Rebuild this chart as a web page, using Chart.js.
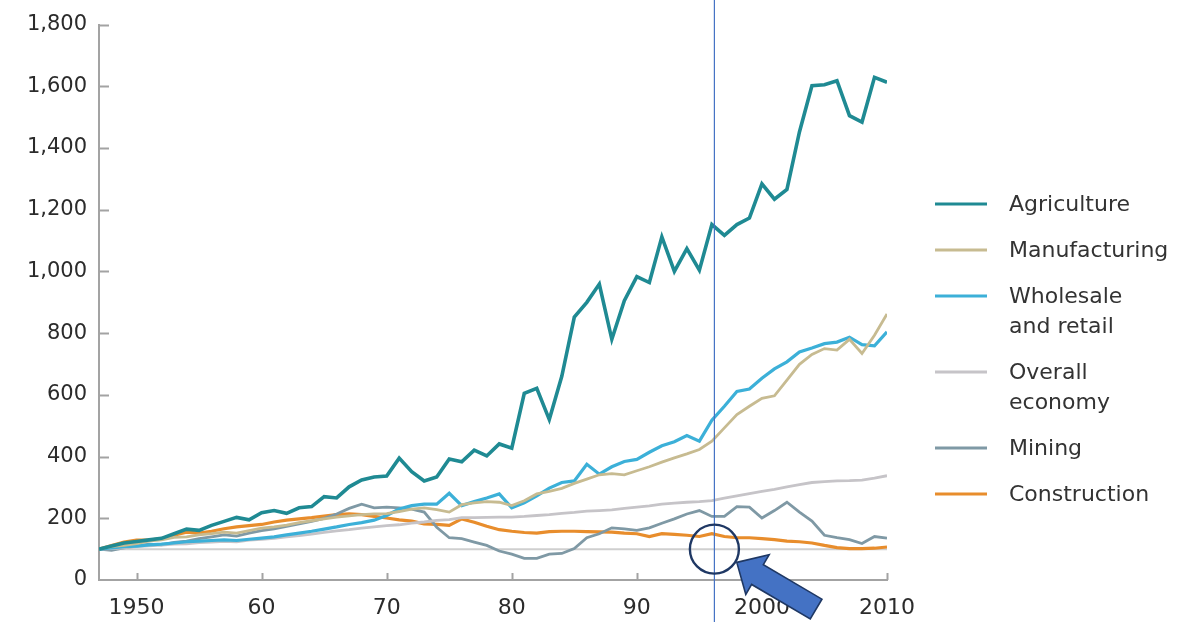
<!DOCTYPE html>
<html>
<head>
<meta charset="utf-8">
<script src="https://cdn.jsdelivr.net/npm/chart.js@4.4.1/dist/chart.umd.min.js"></script>
<style>
  html, body { margin: 0; padding: 0; background: #fff; }
  canvas { display: block; }
</style>
</head>
<body>
<canvas id="sector-chart" width="1201" height="622"></canvas>
<script>
// Index, 1947 = 100
const years = [
  1947, 1948, 1949, 1950, 1951, 1952, 1953, 1954, 1955, 1956,
  1957, 1958, 1959, 1960, 1961, 1962, 1963, 1964, 1965, 1966,
  1967, 1968, 1969, 1970, 1971, 1972, 1973, 1974, 1975, 1976,
  1977, 1978, 1979, 1980, 1981, 1982, 1983, 1984, 1985, 1986,
  1987, 1988, 1989, 1990, 1991, 1992, 1993, 1994, 1995, 1996,
  1997, 1998, 1999, 2000, 2001, 2002, 2003, 2004, 2005, 2006,
  2007, 2008, 2009, 2010,
];
const agriculture = [
  100, 110, 120, 125, 130, 135, 150, 165, 161, 177,
  190, 203, 195, 218, 225, 216, 234, 238, 270, 266,
  302, 324, 334, 337, 395, 351, 321, 334, 392, 383,
  421, 402, 441, 427, 605, 621, 520, 660, 852, 900,
  959, 780, 905, 983, 964, 1112, 1000, 1074, 1004, 1152,
  1117, 1152, 1173, 1284, 1234, 1266, 1452, 1602, 1605, 1618,
  1505, 1484, 1629, 1613,
];
const manufacturing = [
  100, 108, 112, 118, 126, 130, 138, 140, 146, 150,
  155, 152, 160, 168, 172, 178, 186, 192, 198, 204,
  208, 212, 214, 215, 222, 230, 234, 228, 220, 244,
  250, 254, 252, 241, 257, 279, 287, 297, 313, 327,
  341, 345, 341, 354, 367, 382, 396, 409, 423, 450,
  493, 536, 563, 589, 597, 648, 699, 731, 750, 745,
  780, 734, 793, 862,
];
const wholesale = [
  100, 104, 108, 110, 114, 116, 120, 124, 126, 128,
  130, 128, 132, 136, 140, 146, 152, 158, 165, 172,
  180, 186, 194, 209, 230, 241, 246, 246, 281, 241,
  254, 266, 279, 234, 250, 273, 298, 316, 321, 375,
  343, 367, 384, 391, 414, 435, 448, 468, 450, 518,
  563, 611, 619, 654, 684, 707, 739, 752, 766, 771,
  787, 763, 759, 804,
];
const overall = [
  100, 102, 104, 108, 111, 113, 116, 117, 121, 123,
  125, 124, 129, 132, 135, 140, 144, 149, 154, 159,
  163, 168, 172, 176, 179, 184, 188, 193, 196, 202,
  202, 203, 204, 204, 206, 209, 212, 216, 219, 223,
  225, 227, 232, 236, 240, 246, 249, 252, 254, 257,
  265, 273, 280, 287, 294, 302, 309, 316, 319, 321,
  322, 324, 330, 338,
];
const mining = [
  100, 96, 104, 110, 116, 114, 122, 126, 134, 140,
  146, 142, 152, 160, 166, 174, 182, 190, 200, 214,
  232, 246, 234, 236, 234, 230, 220, 171, 137, 134,
  123, 112, 94, 84, 70, 70, 84, 86, 102, 137,
  150, 169, 166, 161, 169, 184, 198, 214, 225, 206,
  206, 238, 236, 201, 225, 252, 220, 191, 145, 137,
  131, 118, 141, 136,
];
const construction = [
  100, 112, 123, 129, 129, 134, 145, 155, 152, 158,
  166, 172, 176, 180, 188, 194, 198, 202, 207, 212,
  214, 212, 206, 201, 195, 191, 182, 180, 177, 198,
  187, 174, 163, 158, 154, 152, 157, 158, 158, 157,
  156, 155, 152, 150, 141, 150, 148, 145, 141, 150,
  141, 137, 137, 134, 131, 126, 124, 120, 112, 105,
  102, 102, 103, 107,
];

const xTickValues = [1950, 1960, 1970, 1980, 1990, 2000, 2010];
const xTickLabels = ['1950', '60', '70', '80', '90', '2000', '2010'];
const yTickValues = [0, 200, 400, 600, 800, 1000, 1200, 1400, 1600, 1800];
const baseline = 100;
const markerYear = 1996.2;

const series = [
  { lines: ['Agriculture'], data: agriculture, color: '#1f8a93', width: 3.6 },
  { lines: ['Manufacturing'], data: manufacturing, color: '#c7bb91', width: 2.8 },
  { lines: ['Wholesale', 'and retail'], data: wholesale, color: '#3cb0d8', width: 3.2 },
  { lines: ['Overall', 'economy'], data: overall, color: '#c6c4c8', width: 2.8 },
  { lines: ['Mining'], data: mining, color: '#7f99a5', width: 2.8 },
  { lines: ['Construction'], data: construction, color: '#e88d2c', width: 3.2 },
];

const axisColor = '#a3a3a3';
const textColor = '#2b2b2b';
Chart.defaults.font.family = '"DejaVu Sans", "Liberation Sans", sans-serif';
Chart.defaults.color = textColor;

const ctx = document.getElementById('sector-chart');
// eslint-disable-next-line no-unused-vars
const chart = new Chart(ctx, {
  type: 'line',
  data: {
    datasets: series.map((s) => ({
      label: s.lines.join(' '),
      data: s.data.map((v, i) => ({ x: years[i], y: v })),
      borderColor: s.color,
      borderWidth: s.width,
      pointRadius: 0,
      tension: 0,
      fill: false,
    })),
  },
  options: {
    responsive: false,
    animation: false,
    devicePixelRatio: 1,
    layout: {
      padding: { top: 20, right: 314, bottom: 0, left: 0 },
    },
    scales: {
      x: {
        type: 'linear',
        min: 1947,
        max: 2010,
        afterBuildTicks: (scale) => { scale.ticks = xTickValues.map((v) => ({ value: v })); },
        afterFit: (scale) => { scale.height = 42; },
        grid: { display: false, drawTicks: false },
        border: { display: true, color: axisColor, width: 2 },
        ticks: {
          padding: 15,
          maxRotation: 0,
          font: { size: 22 },
          color: textColor,
          callback: (value) => xTickLabels[xTickValues.indexOf(value)],
        },
      },
      y: {
        min: 0,
        max: 1800,
        afterBuildTicks: (scale) => { scale.ticks = yTickValues.map((v) => ({ value: v })); },
        afterFit: (scale) => { scale.width = 99; },
        grid: { display: false, drawTicks: false },
        border: { display: true, color: axisColor, width: 2 },
        ticks: {
          padding: 12,
          font: { size: 21 },
          color: textColor,
          callback: (value) => value.toLocaleString('en-US'),
        },
      },
    },
    plugins: {
      legend: { display: false },
      tooltip: { enabled: false },
    },
  },
  plugins: [{
    id: 'decorations',
    beforeDatasetsDraw(c) {
      // Reference line at index = 100
      const { ctx: g, chartArea, scales } = c;
      const y = scales.y.getPixelForValue(baseline);
      g.save();
      g.strokeStyle = '#cfcfcf';
      g.lineWidth = 2;
      g.beginPath();
      g.moveTo(chartArea.left, y);
      g.lineTo(chartArea.right, y);
      g.stroke();
      g.restore();
    },
    afterDraw(c) {
      const { ctx: g, chartArea, scales } = c;
      const xAxis = scales.x;
      const yAxis = scales.y;
      g.save();
      // Inward tick marks
      g.strokeStyle = axisColor;
      g.lineWidth = 2;
      g.beginPath();
      yTickValues.forEach((v) => {
        if (v === 0) return;
        const y = Math.round(yAxis.getPixelForValue(v)) + 0.5;
        g.moveTo(chartArea.left, y);
        g.lineTo(chartArea.left + 10, y);
      });
      xTickValues.forEach((v) => {
        const x = Math.round(xAxis.getPixelForValue(v)) + 0.5;
        g.moveTo(x, chartArea.bottom);
        g.lineTo(x, chartArea.bottom - 7);
      });
      g.stroke();

      // Legend on the right
      let ly = 204;
      g.font = '22px "DejaVu Sans", sans-serif';
      g.textBaseline = 'middle';
      g.textAlign = 'left';
      series.forEach((s) => {
        g.strokeStyle = s.color;
        g.lineWidth = 3.2;
        g.beginPath();
        g.moveTo(935, ly);
        g.lineTo(987, ly);
        g.stroke();
        g.fillStyle = '#333333';
        s.lines.forEach((t, i) => g.fillText(t, 1009, ly + 1 + i * 30));
        ly += 46 + 30 * (s.lines.length - 1);
      });

      // Vertical marker line, circle and arrow
      const mx = xAxis.getPixelForValue(markerYear);
      const my = yAxis.getPixelForValue(baseline);
      g.strokeStyle = '#4472c4';
      g.lineWidth = 1.2;
      g.beginPath();
      g.moveTo(mx, 0);
      g.lineTo(mx, c.height);
      g.stroke();

      const r = 24.5;
      g.strokeStyle = '#1f3864';
      g.lineWidth = 2.4;
      g.beginPath();
      g.arc(mx, my, r, 0, Math.PI * 2);
      g.stroke();

      const dx = 0.862;
      const dy = 0.508;
      const tipX = mx + dx * (r + 1.5);
      const tipY = my + dy * (r + 1.5);
      const pt = (u, v) => [tipX + dx * u + dy * v, tipY + dy * u - dx * v];
      const shape = [
        pt(0, 0), pt(24, 23), pt(24, 11.5), pt(92, 11.5),
        pt(92, -11.5), pt(24, -11.5), pt(24, -23),
      ];
      g.fillStyle = '#4472c4';
      g.strokeStyle = '#1f3864';
      g.lineWidth = 1.6;
      g.beginPath();
      shape.forEach(([px, py], i) => (i ? g.lineTo(px, py) : g.moveTo(px, py)));
      g.closePath();
      g.fill();
      g.stroke();
      g.restore();
    },
  }],
});
</script>
</body>
</html>
